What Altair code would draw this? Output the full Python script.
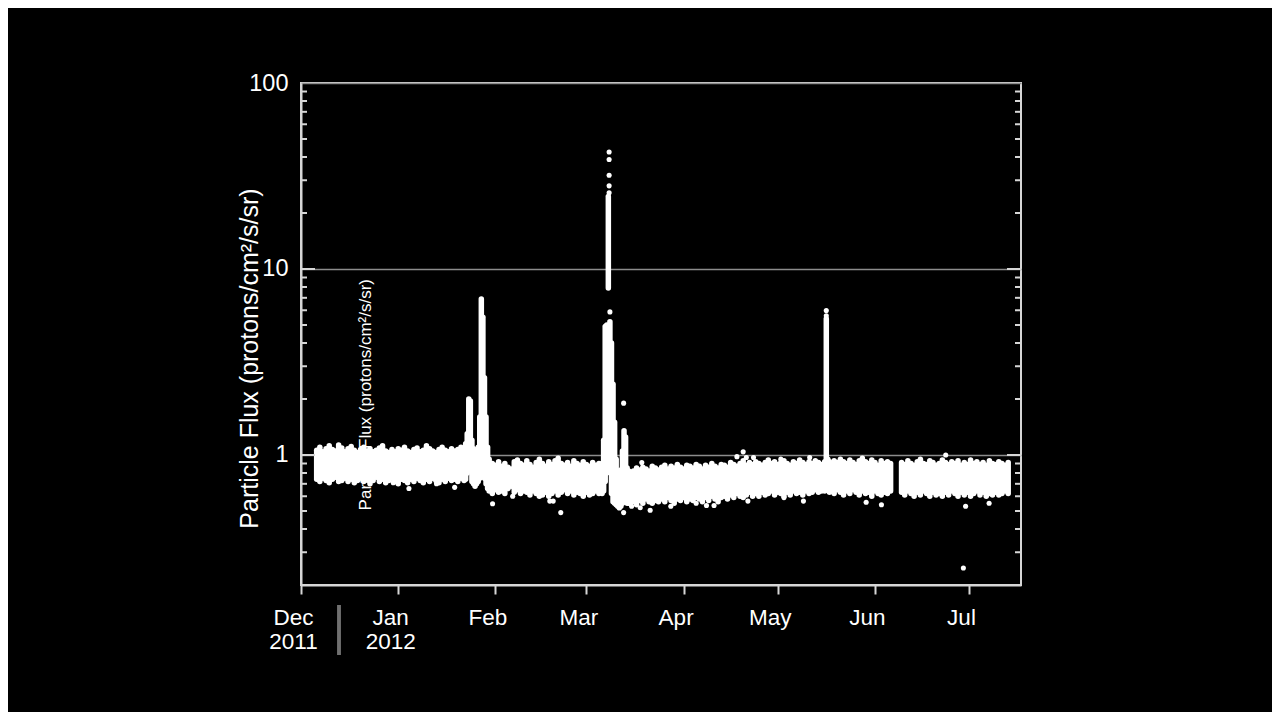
import altair as alt
import pandas as pd

# ---------------- data (protons/cm2/s/sr) ----------------
# quiet periods: daily upper / lower envelope of the scatter
seg_a_start = "2011-12-06"
seg_a_hi = [1.06, 1.10, 1.04, 1.08, 1.12, 1.07, 1.05, 1.13, 1.09, 1.04,
            1.08, 1.11, 1.06, 1.03, 1.07, 1.10, 1.05, 1.08, 1.04, 1.06,
            1.09, 1.12, 1.05, 1.03, 1.07, 1.04, 1.08, 1.06, 1.10, 1.05,
            1.03, 1.07, 1.09, 1.04, 1.06, 1.12, 1.08, 1.05, 1.03, 1.07,
            1.10, 1.06, 1.04, 1.08, 1.05, 1.07, 1.10]
seg_a_lo = [0.74, 0.72, 0.75, 0.73, 0.71, 0.74, 0.76, 0.72, 0.73, 0.75,
            0.72, 0.74, 0.71, 0.73, 0.75, 0.72, 0.74, 0.70, 0.73, 0.76,
            0.72, 0.74, 0.71, 0.73, 0.75, 0.72, 0.70, 0.74, 0.73, 0.71,
            0.74, 0.72, 0.75, 0.73, 0.71, 0.74, 0.72, 0.75, 0.73, 0.71,
            0.74, 0.72, 0.75, 0.73, 0.74, 0.72, 0.75]

seg_b_start = "2012-01-30"
seg_b_hi = [0.95, 0.90, 0.88, 0.92, 0.87, 0.90, 0.86, 0.84, 0.92, 0.94,
            0.90, 0.88, 0.93, 0.89, 0.86, 0.91, 0.95, 0.90, 0.87, 0.92,
            0.89, 0.93, 0.96, 0.90, 0.88, 0.91, 0.87, 0.93, 0.90, 0.88,
            0.92, 0.89, 0.87, 0.91, 0.88, 0.90]
seg_b_lo = [0.64, 0.62, 0.65, 0.63, 0.64, 0.62, 0.66, 0.68, 0.63, 0.65,
            0.62, 0.64, 0.63, 0.61, 0.64, 0.62, 0.60, 0.61, 0.63, 0.60,
            0.62, 0.64, 0.61, 0.63, 0.65, 0.62, 0.64, 0.61, 0.63, 0.62,
            0.60, 0.63, 0.61, 0.62, 0.64, 0.62]

seg_c_start = "2012-03-15"
seg_c_hi = [0.80, 0.82, 0.85, 0.83, 0.86, 0.84, 0.82, 0.87, 0.85, 0.83,
            0.86, 0.88, 0.84, 0.87, 0.85, 0.89, 0.86, 0.84, 0.88, 0.87,
            0.85, 0.89, 0.87, 0.84, 0.88, 0.86, 0.90, 0.87, 0.85, 0.89,
            0.88, 0.86, 0.91, 0.89, 0.87, 0.90, 0.93, 0.88, 0.91, 0.89,
            0.92, 0.90, 0.88, 0.91, 0.94, 0.90, 0.92, 0.89, 0.91, 0.93,
            0.90, 0.88, 0.92, 0.90, 0.94, 0.91, 0.89, 0.92, 0.90, 0.93,
            0.91, 0.89]
seg_c_lo = [0.55, 0.56, 0.54, 0.57, 0.55, 0.58, 0.56, 0.55, 0.57, 0.56,
            0.58, 0.56, 0.59, 0.57, 0.55, 0.58, 0.57, 0.59, 0.56, 0.58,
            0.57, 0.59, 0.58, 0.56, 0.59, 0.57, 0.60, 0.58, 0.56, 0.59,
            0.60, 0.58, 0.61, 0.59, 0.62, 0.60, 0.59, 0.61, 0.63, 0.60,
            0.62, 0.60, 0.63, 0.61, 0.62, 0.64, 0.61, 0.63, 0.62, 0.60,
            0.63, 0.61, 0.64, 0.62, 0.63, 0.61, 0.64, 0.62, 0.63, 0.65,
            0.63, 0.64]

seg_d_start = "2012-05-18"
seg_d_hi = [0.90, 0.93, 0.91, 0.95, 0.92, 0.90, 0.94, 0.91, 0.89, 0.93,
            0.96, 0.92, 0.90, 0.94, 0.91, 0.88, 0.93, 0.90, 0.92, 0.90]
seg_d_lo = [0.64, 0.62, 0.65, 0.63, 0.61, 0.64, 0.62, 0.65, 0.63, 0.61,
            0.64, 0.62, 0.63, 0.60, 0.64, 0.62, 0.61, 0.63, 0.62, 0.64]

seg_e_start = "2012-06-09 12:00"
seg_e_hi = [0.91, 0.89, 0.93, 0.90, 0.88, 0.92, 0.95, 0.90, 0.89, 0.93,
            0.91, 0.88, 0.90, 0.94, 0.91, 0.89, 0.92, 0.90, 0.93, 0.88,
            0.91, 0.89, 0.94, 0.90, 0.92, 0.89, 0.91, 0.88, 0.93, 0.90,
            0.89, 0.92, 0.90, 0.88, 0.91]
seg_e_lo = [0.63, 0.61, 0.64, 0.62, 0.60, 0.63, 0.61, 0.64, 0.62, 0.60,
            0.63, 0.61, 0.62, 0.60, 0.63, 0.61, 0.64, 0.62, 0.60, 0.63,
            0.61, 0.63, 0.60, 0.62, 0.64, 0.61, 0.63, 0.60, 0.62, 0.61,
            0.63, 0.61, 0.62, 0.64, 0.62]

# solar particle events: 12-hour upper / lower envelope
jan_start = "2012-01-22"
jan_hi = [1.08, 1.15, 1.30, 2.00, 1.95, 1.20, 1.08, 1.05, 1.06, 1.10,
          1.60, 6.90, 5.50, 2.60, 1.60, 1.10]
jan_lo = [0.73, 0.74, 0.80, 0.85, 0.85, 0.72, 0.70, 0.68, 0.70, 0.72,
          0.75, 0.90, 0.85, 0.75, 0.70, 0.66]

mar_start = "2012-03-06"
mar_hi = [0.90, 1.20, 4.90, 5.00, 24.5, 5.20, 4.00, 2.40, 1.50, 0.95,
          0.82, 0.80, 0.83, 1.05, 1.35, 1.25, 0.85, 0.82]
mar_lo = [0.62, 0.64, 0.72, 0.80, 7.90, 0.90, 0.62, 0.56, 0.55, 0.54,
          0.53, 0.52, 0.53, 0.55, 0.56, 0.56, 0.55, 0.55]

may_start = "2012-05-16"
may_hi = [0.92, 5.40, 0.95, 0.92]
may_lo = [0.64, 0.90, 0.65, 0.63]

# isolated points
dot_dates = ["2011-12-30 10:00", "2012-01-04 10:00", "2012-01-13 05:00", "2012-01-19 00:00",
             "2012-01-31 02:00", "2012-02-06 12:00", "2012-02-18 08:00", "2012-02-19 10:00",
             "2012-02-21 20:00",
             "2012-03-08 06:00", "2012-03-08 06:00", "2012-03-08 06:00", "2012-03-08 06:00",
             "2012-03-08 06:00", "2012-03-08 12:00", "2012-03-12 21:00", "2012-03-12 21:00",
             "2012-03-15 10:00", "2012-03-18 04:00", "2012-03-18 16:00", "2012-03-21 08:00",
             "2012-03-27 22:00", "2012-04-05 00:00", "2012-04-08 07:00", "2012-04-10 17:00",
             "2012-04-18 00:00", "2012-04-20 00:00", "2012-04-21 00:00", "2012-04-21 12:00",
             "2012-04-23 07:00", "2012-05-02 00:00", "2012-05-03 00:00", "2012-05-09 05:00",
             "2012-05-11 05:00", "2012-05-16 12:00", "2012-05-16 12:00", "2012-05-29 05:00",
             "2012-06-03 02:00", "2012-06-23 14:00", "2012-06-29 05:00", "2012-06-29 22:00",
             "2012-07-07 10:00"]
dot_vals = [0.71, 0.66, 0.70, 0.67,
            0.547, 0.60, 0.565, 0.565,
            0.49,
            25.7, 28.0, 31.9, 38.8,
            42.6, 5.88, 1.9, 0.49,
            0.53, 0.52, 0.91, 0.505,
            0.53, 0.55, 0.535, 0.535,
            0.98, 1.04, 0.97, 0.565,
            0.97, 0.95, 0.59, 0.565,
            0.97, 5.98, 5.6, 0.557,
            0.54, 1.0, 0.247, 0.53,
            0.55]

# axis text
month_dates = ["2011-12-01", "2012-01-01", "2012-02-01", "2012-03-01",
               "2012-04-01", "2012-05-01", "2012-06-01", "2012-07-01"]
month_names = ["Dec", "Jan", "Feb", "Mar", "Apr", "May", "Jun", "Jul"]
year_dates = ["2011-12-01", "2012-01-01"]
year_names = ["2011", "2012"]
y_label_values = [1, 10, 100]
major_ticks = [1, 10]
minor_ticks = [0.3, 0.4, 0.5, 0.6, 0.7, 0.8, 0.9,
               2, 3, 4, 5, 6, 7, 8, 9,
               20, 30, 40, 50, 60, 70, 80, 90]
y_title = "Particle Flux (protons/cm²/s/sr)"
note_date = "2011-12-21 19:00"
note_value = 2.11

# ---------------- tables ----------------
def iso(values):
    return [pd.Timestamp(v).strftime("%Y-%m-%dT%H:%M:%SZ") for v in values]


def segment(start, hi, lo, freq):
    t = pd.date_range(start, periods=len(hi), freq=freq)
    return pd.DataFrame({"t": iso(t), "hi": hi, "lo": lo})


band = pd.concat([
    segment(seg_a_start, seg_a_hi, seg_a_lo, "D"),
    segment(jan_start, jan_hi, jan_lo, "12h"),
    segment(seg_b_start, seg_b_hi, seg_b_lo, "D"),
    segment(mar_start, mar_hi, mar_lo, "12h"),
    segment(seg_c_start, seg_c_hi, seg_c_lo, "D"),
    segment(may_start, may_hi, may_lo, "12h"),
    segment(seg_d_start, seg_d_hi, seg_d_lo, "D"),
    segment(seg_e_start, seg_e_hi, seg_e_lo, "D"),
], ignore_index=True)

dots = pd.DataFrame({"t": iso(dot_dates), "v": dot_vals})
months = pd.DataFrame({"t": iso(month_dates), "m": month_names})
years = pd.DataFrame({"t": iso(year_dates), "y": year_names})
minor = pd.DataFrame({"v": minor_ticks})
major = pd.DataFrame({"v": major_ticks})
note = pd.DataFrame({"t": iso([note_date]), "v": [note_value], "txt": [y_title]})

FONT = "Liberation Sans"
AXC = "#d6d6d6"

xscale = alt.Scale(type="utc", nice=False,
                   domain=[alt.DateTime(year=2011, month=12, date=1, utc=True),
                           alt.DateTime(year=2012, month=7, date=17, hours=14, utc=True)])
yscale = alt.Scale(type="log", domain=[0.2, 100], nice=False)

x_axis = alt.Axis(values=[alt.DateTime(year=int(d[:4]), month=int(d[5:7]), date=1, utc=True)
                          for d in month_dates],
                  labels=False, ticks=True, tickSize=9, tickColor=AXC, tickWidth=2,
                  domainColor=AXC, domainWidth=2, grid=False, title=None)
y_axis = alt.Axis(values=y_label_values, format="d", grid=True, gridColor="#8c8c8c",
                  gridWidth=1.5, ticks=False, domainColor=AXC, domainWidth=2,
                  labelColor="white", labelFont=FONT, labelFontSize=23.5, labelPadding=13,
                  title=y_title, titleColor="white", titleFont=FONT, titleFontSize=25,
                  titleFontWeight="normal", titleAngle=270, titleX=-52, titleY=275,
                  titleAlign="center", titleBaseline="middle")


def X(field):
    return alt.X(field, scale=xscale, axis=x_axis)


def Y(field):
    return alt.Y(field, scale=yscale, axis=y_axis)


band_layer = alt.Chart(band).mark_rule(color="white", strokeWidth=5.5, strokeCap="round").encode(
    x=X("t:T"), y=Y("lo:Q"), y2="hi:Q",
)

dot_layer = alt.Chart(dots).mark_circle(color="white", size=26, opacity=1).encode(
    x=X("t:T"), y=Y("v:Q"),
)

note_layer = alt.Chart(note).mark_text(color="white", font=FONT, fontSize=17, angle=270,
                                       align="center", baseline="middle").encode(
    x=X("t:T"), y=Y("v:Q"), text="txt:N",
)


def tick_layer(df, x0, x1):
    return alt.Chart(df).mark_rule(color=AXC, strokeWidth=2).encode(
        y=Y("v:Q"), x=alt.value(x0), x2=alt.value(x1),
    )


month_layer = alt.Chart(months).mark_text(color="white", font=FONT, fontSize=22.5,
                                          align="center", baseline="alphabetic", dx=-7.5).encode(
    x=X("t:T"), y=alt.value(542), text="m:N",
)
year_layer = alt.Chart(years).mark_text(color="white", font=FONT, fontSize=22.5,
                                        align="center", baseline="alphabetic", dx=-7.5).encode(
    x=X("t:T"), y=alt.value(566), text="y:N",
)
sep_layer = alt.Chart(years).mark_rule(color="#707070", strokeWidth=3.5).encode(
    x=alt.value(38), y=alt.value(522), y2=alt.value(572),
)

chart = alt.layer(
    note_layer,
    band_layer,
    dot_layer,
    tick_layer(minor, 0, 6),
    tick_layer(minor, 720, 714),
    tick_layer(major, 0, 14),
    tick_layer(major, 720, 706),
    month_layer,
    year_layer,
    sep_layer,
).properties(
    width=720,
    height=502,
    background="black",
    padding={"left": 293, "top": 75, "right": 251, "bottom": 127},
    autosize=alt.AutoSizeParams(type="none"),
).configure_view(stroke=AXC, strokeWidth=2)

chart.save("out.html", embed_options={"renderer": "svg", "actions": False})
